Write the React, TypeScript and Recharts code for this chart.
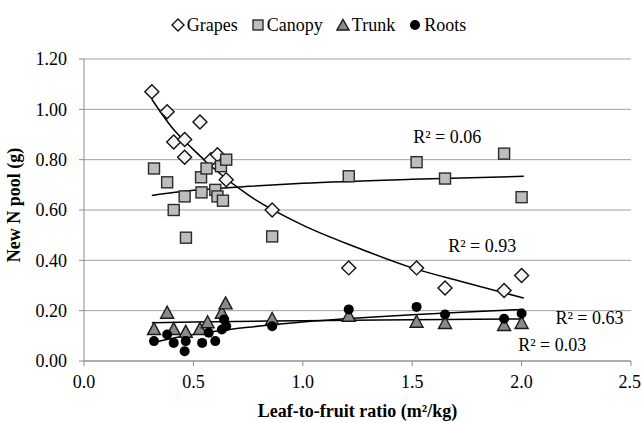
import React from "react";
import {
  ComposedChart,
  Scatter,
  Line,
  XAxis,
  YAxis,
  CartesianGrid,
  Legend,
  ReferenceDot,
} from "recharts";

// measured points (leaf-to-fruit ratio, new N pool)
const grapes = [
  { x: 0.31, y: 1.07 }, { x: 0.38, y: 0.99 }, { x: 0.41, y: 0.87 },
  { x: 0.46, y: 0.88 }, { x: 0.46, y: 0.81 }, { x: 0.53, y: 0.95 },
  { x: 0.58, y: 0.8 }, { x: 0.61, y: 0.82 }, { x: 0.65, y: 0.72 },
  { x: 0.86, y: 0.6 }, { x: 1.21, y: 0.37 }, { x: 1.52, y: 0.37 },
  { x: 1.65, y: 0.29 }, { x: 1.92, y: 0.28 }, { x: 2.0, y: 0.34 },
];

const canopy = [
  { x: 0.32, y: 0.765 }, { x: 0.38, y: 0.71 }, { x: 0.41, y: 0.6 },
  { x: 0.46, y: 0.654 }, { x: 0.466, y: 0.49 }, { x: 0.535, y: 0.73 },
  { x: 0.537, y: 0.67 }, { x: 0.56, y: 0.765 }, { x: 0.6, y: 0.68 },
  { x: 0.61, y: 0.654 }, { x: 0.626, y: 0.774 }, { x: 0.65, y: 0.8 },
  { x: 0.635, y: 0.637 }, { x: 0.86, y: 0.495 }, { x: 1.21, y: 0.734 },
  { x: 1.52, y: 0.79 }, { x: 1.65, y: 0.725 }, { x: 1.92, y: 0.824 },
  { x: 2.0, y: 0.651 },
];

const trunk = [
  { x: 0.32, y: 0.125 }, { x: 0.38, y: 0.19 }, { x: 0.41, y: 0.125 },
  { x: 0.465, y: 0.114 }, { x: 0.53, y: 0.125 }, { x: 0.565, y: 0.152 },
  { x: 0.63, y: 0.19 }, { x: 0.647, y: 0.227 }, { x: 0.86, y: 0.165 },
  { x: 1.21, y: 0.178 }, { x: 1.52, y: 0.154 }, { x: 1.65, y: 0.149 },
  { x: 1.92, y: 0.141 }, { x: 2.0, y: 0.149 },
];

const roots = [
  { x: 0.32, y: 0.079 }, { x: 0.38, y: 0.105 }, { x: 0.41, y: 0.072 },
  { x: 0.46, y: 0.039 }, { x: 0.465, y: 0.079 }, { x: 0.54, y: 0.072 },
  { x: 0.57, y: 0.112 }, { x: 0.6, y: 0.079 }, { x: 0.63, y: 0.125 },
  { x: 0.64, y: 0.165 }, { x: 0.65, y: 0.138 }, { x: 0.86, y: 0.138 },
  { x: 1.21, y: 0.205 }, { x: 1.52, y: 0.215 }, { x: 1.65, y: 0.185 },
  { x: 1.92, y: 0.168 }, { x: 2.0, y: 0.189 },
];

// trendlines
const grapesFit = [
  { x: 0.31, y: 1.04 }, { x: 0.4, y: 0.93 }, { x: 0.5, y: 0.84 },
  { x: 0.6, y: 0.76 }, { x: 0.75, y: 0.66 }, { x: 1.0, y: 0.54 },
  { x: 1.25, y: 0.45 }, { x: 1.5, y: 0.37 }, { x: 1.75, y: 0.31 },
  { x: 2.01, y: 0.25 },
];
const canopyFit = [
  { x: 0.31, y: 0.658 }, { x: 0.4, y: 0.669 }, { x: 0.5, y: 0.678 },
  { x: 0.75, y: 0.694 }, { x: 1.0, y: 0.706 }, { x: 1.5, y: 0.722 },
  { x: 2.01, y: 0.734 },
];
const trunkFit = [
  { x: 0.31, y: 0.152 }, { x: 0.5, y: 0.155 }, { x: 1.0, y: 0.16 },
  { x: 1.5, y: 0.164 }, { x: 2.01, y: 0.167 },
];
const rootsFit = [
  { x: 0.31, y: 0.071 }, { x: 0.4, y: 0.089 }, { x: 0.5, y: 0.105 },
  { x: 0.6, y: 0.118 }, { x: 0.75, y: 0.134 }, { x: 1.0, y: 0.155 },
  { x: 1.25, y: 0.171 }, { x: 1.5, y: 0.184 }, { x: 1.75, y: 0.195 },
  { x: 2.01, y: 0.205 },
];

const xTicks = [0, 0.5, 1, 1.5, 2, 2.5];
const yTicks = [0, 0.2, 0.4, 0.6, 0.8, 1.0, 1.2];

const r2Labels = [
  { x: 1.66, y: 0.892, text: "R² = 0.06" },
  { x: 1.82, y: 0.459, text: "R² = 0.93" },
  { x: 2.31, y: 0.173, text: "R² = 0.63" },
  { x: 2.14, y: 0.066, text: "R² = 0.03" },
];

const FONT = "Liberation Serif, DejaVu Serif, serif";
const AXIS = "#8c8c8c";

const Diamond = ({ cx, cy }: any) => (
  <polygon
    points={`${cx},${cy - 7} ${cx + 7},${cy} ${cx},${cy + 7} ${cx - 7},${cy}`}
    fill="#f4f4f4"
    stroke="#111"
    strokeWidth={1.4}
  />
);
const Square = ({ cx, cy }: any) => (
  <rect x={cx - 5.5} y={cy - 5.5} width={11} height={11} fill="#bdbdbd" stroke="#2a2a2a" strokeWidth={1.4} />
);
const Triangle = ({ cx, cy }: any) => (
  <polygon
    points={`${cx},${cy - 7} ${cx + 6.5},${cy + 5} ${cx - 6.5},${cy + 5}`}
    fill="#8a8a8a"
    stroke="#1a1a1a"
    strokeWidth={1.4}
  />
);
const Dot = ({ cx, cy }: any) => <circle cx={cx} cy={cy} r={5} fill="#000" />;

const legendItems = [
  { name: "Grapes", icon: <polygon points="7,1 13,7 7,13 1,7" fill="#fff" stroke="#111" strokeWidth={1.4} /> },
  { name: "Canopy", icon: <rect x={2} y={2} width={10} height={10} fill="#bdbdbd" stroke="#2a2a2a" strokeWidth={1.4} /> },
  { name: "Trunk", icon: <polygon points="7,1.5 13,12 1,12" fill="#8a8a8a" stroke="#1a1a1a" strokeWidth={1.4} /> },
  { name: "Roots", icon: <circle cx={7} cy={7} r={5} fill="#000" /> },
];

const renderLegend = () => (
  <div
    style={{
      display: "flex",
      justifyContent: "center",
      gap: 13,
      height: 49,
      paddingTop: 5,
      paddingLeft: 6,
      boxSizing: "border-box",
      fontFamily: FONT,
      fontSize: 18,
      color: "#000",
    }}
  >
    {legendItems.map((it) => (
      <div key={it.name} style={{ display: "flex", alignItems: "center", height: 20, gap: 2 }}>
        <svg width={14} height={14}>{it.icon}</svg>
        <span>{it.name}</span>
      </div>
    ))}
  </div>
);

const tickStyle = { fill: "#000", fontSize: 18, fontFamily: FONT, style: { fontFamily: FONT } };

const App: React.FC = () => (
  <div style={{ position: "absolute", top: 0, left: 0, background: "#fff", fontFamily: FONT }}>
    <ComposedChart
      width={641}
      height={423}
      margin={{ top: 10, right: 10, bottom: 0, left: 0 }}
      style={{ fontFamily: FONT }}
    >
      <Legend verticalAlign="top" content={renderLegend} />
      <CartesianGrid vertical={false} stroke="#a0a0a0" />
      <XAxis
        dataKey="x"
        type="number"
        domain={[0, 2.5]}
        ticks={xTicks}
        tickFormatter={(v) => v.toFixed(1)}
        stroke={AXIS}
        tickSize={5}
        tickMargin={9}
        height={62}
        tick={tickStyle}
        label={{
          value: "Leaf-to-fruit ratio (m²/kg)",
          position: "insideBottom",
          offset: 6,
          fill: "#000",
          fontSize: 18,
          fontWeight: "bold",
          style: { fontFamily: FONT },
        }}
      />
      <YAxis
        dataKey="y"
        type="number"
        domain={[0, 1.2]}
        ticks={yTicks}
        tickFormatter={(v) => v.toFixed(2)}
        stroke={AXIS}
        tickSize={5}
        tickMargin={12}
        width={84}
        tick={tickStyle}
        label={{
          value: "New N pool (g)",
          angle: -90,
          position: "insideLeft",
          offset: 14,
          dy: -5,
          fill: "#000",
          fontSize: 18,
          fontWeight: "bold",
          style: { textAnchor: "middle", fontFamily: FONT },
        }}
      />
      <Scatter name="Grapes" data={grapes} shape={Diamond} isAnimationActive={false} />
      <Scatter name="Canopy" data={canopy} shape={Square} isAnimationActive={false} />
      <Scatter name="Trunk" data={trunk} shape={Triangle} isAnimationActive={false} />
      <Scatter name="Roots" data={roots} shape={Dot} isAnimationActive={false} />
      <Line data={grapesFit} dataKey="y" type="monotone" stroke="#000" strokeWidth={1.5} dot={false} isAnimationActive={false} legendType="none" />
      <Line data={canopyFit} dataKey="y" type="monotone" stroke="#000" strokeWidth={1.5} dot={false} isAnimationActive={false} legendType="none" />
      <Line data={trunkFit} dataKey="y" type="monotone" stroke="#000" strokeWidth={1.5} dot={false} isAnimationActive={false} legendType="none" />
      <Line data={rootsFit} dataKey="y" type="monotone" stroke="#000" strokeWidth={1.5} dot={false} isAnimationActive={false} legendType="none" />
      {r2Labels.map((l) => (
        <ReferenceDot
          key={l.text}
          x={l.x}
          y={l.y}
          r={0}
          fill="none"
          stroke="none"
          label={{ value: l.text, position: "center", fill: "#000", fontSize: 18, style: { fontFamily: FONT } }}
        />
      ))}
    </ComposedChart>
  </div>
);

export default App;
